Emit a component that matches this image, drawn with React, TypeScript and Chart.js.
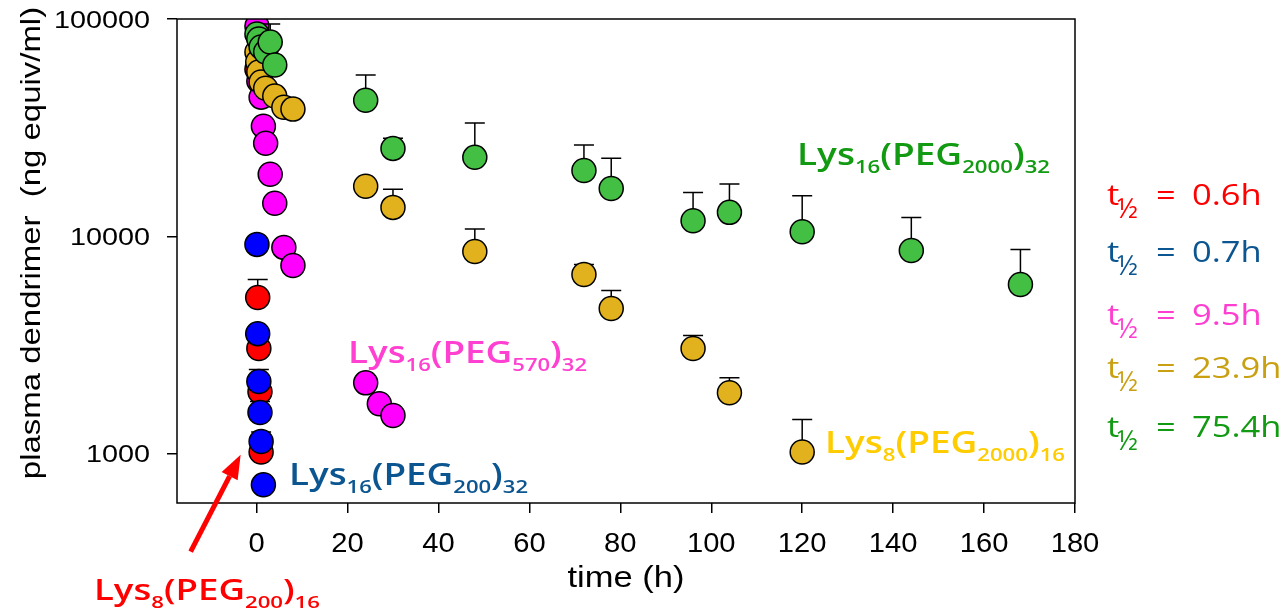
import React, { useEffect, useRef } from "react";
import { Chart, registerables } from "chart.js";
Chart.register(...registerables);

// ---------- data ----------
const xTicks = [0, 20, 40, 60, 80, 100, 120, 140, 160, 180];
const yTicks = [1000, 10000, 100000];

// Lys8(PEG200)16
const redTime = [0.083, 0.25, 0.5, 0.75, 1];
const redConc = [58800, 5240, 3050, 1930, 1020];
const redSD = [0, 1100, 0, 0, 0];

// Lys16(PEG200)32
const blueTime = [0.083, 0.25, 0.5, 0.75, 1, 1.5];
const blueConc = [9190, 3570, 2150, 1550, 1140, 720];
const blueSD = [0, 0, 290, 190, 120, 0];

// Lys16(PEG570)32
const magTime = [0.083, 0.5, 1, 1.5, 2, 3, 4, 6, 8, 24, 27, 30];
const magConc = [92900, 51800, 43700, 32100, 26800, 19300, 14200, 8900, 7350, 2120, 1700, 1500];
const magSD = [0, 0, 0, 0, 0, 0, 0, 0, 0, 0, 0, 0];

// Lys8(PEG2000)16
const yelTime = [0.083, 0.25, 0.5, 1, 2, 4, 6, 8, 24, 30, 48, 72, 78, 96, 104, 120];
const yelConc = [70500, 63400, 57000, 51300, 48000, 44200, 39300, 38500, 17000, 13600, 8530, 6680, 4660, 3050, 1910, 1020];
const yelSD = [0, 0, 0, 0, 0, 0, 0, 0, 0, 2900, 2300, 750, 980, 450, 330, 420];

// Lys16(PEG2000)32
const grnTime = [0.083, 0.5, 1, 2, 3, 4, 24, 30, 48, 72, 78, 96, 104, 120, 144, 168];
const grnConc = [85300, 80900, 74300, 70500, 78300, 61400, 42300, 25400, 23100, 20100, 16600, 11800, 12900, 10500, 8620, 6010];
const grnSD = [0, 8100, 0, 0, 16600, 0, 12900, 2900, 10100, 6200, 6300, 4100, 4500, 4900, 3600, 2700];

const seriesNames = ["Lys8(PEG200)16", "Lys16(PEG200)32", "Lys16(PEG570)32", "Lys8(PEG2000)16", "Lys16(PEG2000)32"];
const halfLives = ["0.6h", "0.7h", "9.5h", "23.9h", "75.4h"];

// ---------- styles ----------
const markerColors = ["#ff0000", "#0000ff", "#ff00ff", "#e2b21e", "#43bf43"];
const drawOrder = [5, 4, 3, 2, 1];
const halfColors = ["#ff0000", "#0b5590", "#ff3dd0", "#c9a012", "#139a13"];

const allTimes = [redTime, blueTime, magTime, yelTime, grnTime];
const allConc = [redConc, blueConc, magConc, yelConc, grnConc];
const allSD = [redSD, blueSD, magSD, yelSD, grnSD];

type Seg = { t: string; sub?: boolean };
const label = (a: string, s1: string, b: string, s2: string, s3: string): Seg[] => [
  { t: a }, { t: s1, sub: true }, { t: b }, { t: s2, sub: true }, { t: ")" }, { t: s3, sub: true },
];

function drawRich(
  ctx: CanvasRenderingContext2D,
  segs: Seg[],
  x: number,
  y: number,
  o: { size: number; sub: number; shift: number; family: string; weight: string; color: string; width: number }
) {
  ctx.save();
  let natural = 0;
  for (const s of segs) {
    ctx.font = `${o.weight} ${s.sub ? o.sub : o.size}px ${o.family}`;
    natural += ctx.measureText(s.t).width;
  }
  const sx = o.width / natural;
  ctx.translate(x, y);
  ctx.scale(sx, 1);
  ctx.fillStyle = o.color;
  ctx.textAlign = "left";
  ctx.textBaseline = "alphabetic";
  let cx = 0;
  for (const s of segs) {
    ctx.font = `${o.weight} ${s.sub ? o.sub : o.size}px ${o.family}`;
    ctx.fillText(s.t, cx, s.sub ? o.shift : 0);
    cx += ctx.measureText(s.t).width;
  }
  ctx.restore();
}

function stretchText(
  ctx: CanvasRenderingContext2D,
  text: string,
  x: number,
  y: number,
  font: string,
  color: string,
  sx: number,
  align: CanvasTextAlign,
  rot = 0
) {
  ctx.save();
  ctx.translate(x, y);
  if (rot) ctx.rotate(rot);
  ctx.scale(sx, 1);
  ctx.font = font;
  ctx.fillStyle = color;
  ctx.textAlign = align;
  ctx.textBaseline = "alphabetic";
  ctx.fillText(text, 0, 0);
  ctx.restore();
}

const errorBars = {
  id: "errorBars",
  beforeDatasetDraw(chart: any, args: any) {
    const i = args.index;
    const sd = allSD[i];
    const xs = chart.scales.x;
    const ys = chart.scales.y;
    const ctx = chart.ctx;
    ctx.save();
    ctx.strokeStyle = "#000";
    ctx.lineWidth = 1.5;
    allTimes[i].forEach((t, k) => {
      if (!sd[k]) return;
      const px = xs.getPixelForValue(t);
      const py = ys.getPixelForValue(allConc[i][k]);
      const pt = ys.getPixelForValue(allConc[i][k] + sd[k]);
      ctx.beginPath();
      ctx.moveTo(px, py);
      ctx.lineTo(px, pt);
      ctx.moveTo(px - 10, pt);
      ctx.lineTo(px + 10, pt);
      ctx.stroke();
    });
    ctx.restore();
  },
};

const decorations = {
  id: "decorations",
  afterDraw(chart: any) {
    const ctx: CanvasRenderingContext2D = chart.ctx;
    const a = chart.chartArea;
    const xs = chart.scales.x;
    const ys = chart.scales.y;
    // frame
    ctx.save();
    ctx.strokeStyle = "#000";
    ctx.lineWidth = 1.5;
    ctx.strokeRect(a.left, a.top, a.right - a.left, a.bottom - a.top);
    ctx.restore();

    // tick labels
    const tickFont = "24px 'Liberation Sans', Arial, sans-serif";
    yTicks.forEach((v) => {
      stretchText(ctx, String(v), a.left - 27, ys.getPixelForValue(v) + 8.5, tickFont, "#000", 1.2, "right");
    });
    xTicks.forEach((v) => {
      stretchText(ctx, String(v), xs.getPixelForValue(v), 552, "27px 'Liberation Sans', Arial, sans-serif", "#000", 1.08, "center");
    });
    // axis titles
    stretchText(ctx, "time (h)", (a.left + a.right) / 2, 587, "30px 'Liberation Sans', Arial, sans-serif", "#000", 1.15, "center");
    stretchText(ctx, "plasma dendrimer  (ng equiv/ml)", 40, 243, "27px 'Liberation Sans', Arial, sans-serif", "#000", 1.22, "center", -Math.PI / 2);

    // series labels
    const fam = "'Open Sans', 'Noto Sans', sans-serif";
    const base = { size: 30, sub: 18, shift: 8, family: fam, weight: "600" };
    drawRich(ctx, label("Lys", "16", "(PEG", "2000", "32"), 797, 165, { ...base, color: "#139a13", width: 253 });
    drawRich(ctx, label("Lys", "16", "(PEG", "570", "32"), 348, 363, { ...base, color: "#ff40d0", width: 239 });
    drawRich(ctx, label("Lys", "16", "(PEG", "200", "32"), 289, 485, { ...base, color: "#0b5590", width: 239 });
    drawRich(ctx, label("Lys", "8", "(PEG", "2000", "16"), 825, 453, { ...base, color: "#ffcc00", width: 240 });
    drawRich(ctx, label("Lys", "8", "(PEG", "200", "16"), 94, 600, { ...base, size: 28, sub: 17, color: "#ff0000", width: 226 });

    // arrow (data-space anchored)
    const tx = xs.getPixelForValue(-3.5);
    const ty = ys.getPixelForValue(990);
    const fx = xs.getPixelForValue(-14.5);
    const fy = ys.getPixelForValue(355);
    const ang = Math.atan2(ty - fy, tx - fx);
    const hl = 24, hw = 9;
    const bx = tx - hl * Math.cos(ang);
    const by = ty - hl * Math.sin(ang);
    ctx.save();
    ctx.strokeStyle = "#ff0000";
    ctx.fillStyle = "#ff0000";
    ctx.lineWidth = 5;
    ctx.beginPath();
    ctx.moveTo(fx, fy);
    ctx.lineTo(bx, by);
    ctx.stroke();
    ctx.beginPath();
    ctx.moveTo(tx, ty);
    ctx.lineTo(bx + hw * Math.sin(ang), by - hw * Math.cos(ang));
    ctx.lineTo(bx - hw * Math.sin(ang), by + hw * Math.cos(ang));
    ctx.closePath();
    ctx.fill();
    ctx.restore();

    // half-lives
    const hb = [205, 262, 325, 378, 437];
    halfLives.forEach((h, i) => {
      const col = halfColors[i];
      const f = "400 30px 'Open Sans', 'Noto Sans', sans-serif";
      stretchText(ctx, "t", 1107, hb[i], f, col, 1.15, "left");
      stretchText(ctx, "½", 1117, hb[i] + 13, "400 27px 'Open Sans', 'Noto Sans', sans-serif", col, 1.0, "left");
      stretchText(ctx, "=", 1156, hb[i], f, col, 1.15, "left");
      stretchText(ctx, h, 1192, hb[i], f, col, 1.15, "left");
    });
  },
};

export default function App() {
  const ref = useRef<HTMLCanvasElement>(null);
  useEffect(() => {
    if (!ref.current) return;
    const datasets = seriesNames.map((name, i) => ({
      label: name,
      data: allTimes[i].map((t, k) => ({ x: t, y: allConc[i][k] })),
      backgroundColor: markerColors[i],
      borderColor: "#000",
      borderWidth: 1.5,
      pointRadius: 12,
      pointHoverRadius: 12,
      pointStyle: "circle",
      showLine: false,
      order: drawOrder[i],
    }));
    const chart = new Chart(ref.current, {
      type: "scatter",
      data: { datasets },
      options: {
        animation: false,
        responsive: true,
        maintainAspectRatio: false,
        events: [],
        layout: { padding: { left: 0, top: 19, right: 213, bottom: 0 } },
        plugins: { legend: { display: false }, tooltip: { enabled: false } },
        scales: {
          x: {
            type: "linear",
            min: -17.5,
            max: 180,
            afterFit: (s: any) => { s.height = 107; },
            afterBuildTicks: (s: any) => { s.ticks = xTicks.map((v) => ({ value: v })); },
            ticks: { display: false },
            border: { display: false },
            grid: { drawOnChartArea: false, drawTicks: true, tickLength: 10, color: "#000", lineWidth: 1.5 },
          },
          y: {
            type: "logarithmic",
            min: 594,
            max: 100000,
            afterFit: (s: any) => { s.width = 177; },
            afterBuildTicks: (s: any) => { s.ticks = yTicks.map((v) => ({ value: v })); },
            ticks: { display: false },
            border: { display: false },
            grid: { drawOnChartArea: false, drawTicks: true, tickLength: 10, color: "#000", lineWidth: 1.5 },
          },
        },
      } as any,
      plugins: [errorBars, decorations],
    });
    return () => chart.destroy();
  }, []);
  return (
    <div style={{ position: "fixed", left: 0, top: 0, width: 1288, height: 610, background: "#fff" }}>
      <canvas ref={ref} />
    </div>
  );
}
